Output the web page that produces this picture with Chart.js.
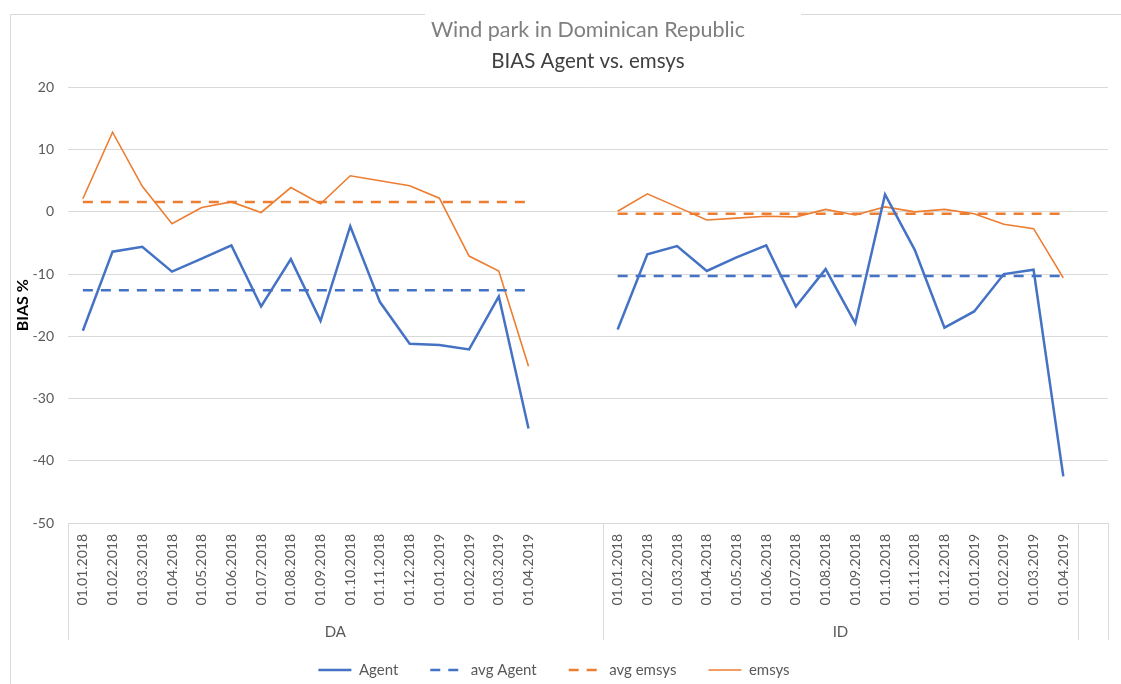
<!DOCTYPE html>
<html>
<head>
<meta charset="utf-8">
<script src="https://cdn.jsdelivr.net/npm/chart.js@4.4.1/dist/chart.umd.min.js"></script>
<style>
  html, body { margin: 0; padding: 0; background: #ffffff; }
  #wrap { width: 1121px; height: 684px; position: relative; }
</style>
</head>
<body>
<div id="wrap"><canvas id="c" width="1121" height="684"></canvas></div>
<script>
// ---- data ----
const months = ['01.01.2018','01.02.2018','01.03.2018','01.04.2018','01.05.2018','01.06.2018',
  '01.07.2018','01.08.2018','01.09.2018','01.10.2018','01.11.2018','01.12.2018',
  '01.01.2019','01.02.2019','01.03.2019','01.04.2019'];
const groupNames = ['DA', 'ID'];
const blanksAfterGroup = [2, 1];

const agentDA = [-19.1, -6.4, -5.6, -9.6, -7.5, -5.4, -15.2, -7.6, -17.5, -2.3, -14.5, -21.2, -21.4, -22.1, -13.6, -34.8];
const agentID = [-18.9, -6.8, -5.5, -9.5, -7.3, -5.4, -15.2, -9.2, -17.9, 2.8, -6.1, -18.6, -16.0, -10.0, -9.3, -42.5];
const emsysDA = [2.1, 12.8, 4.1, -1.9, 0.7, 1.6, -0.1, 3.9, 1.3, 5.8, 5.0, 4.2, 2.2, -7.1, -9.5, -24.8];
const emsysID = [0.1, 2.9, 0.8, -1.3, -1.0, -0.7, -0.8, 0.4, -0.5, 0.8, 0.0, 0.4, -0.3, -2.0, -2.7, -10.6];
const avgAgent = [-12.6, -10.3];   // DA, ID
const avgEmsys = [1.6, -0.3];      // DA, ID

const yMin = -50, yMax = 20, yStep = 10;

// ---- build category table ----
const labels = [];
const groupStart = [];
const groupSize = [];
function buildSeries(perGroup) {
  const out = [];
  perGroup.forEach((vals, g) => {
    vals.forEach(v => out.push(v));
    for (let i = 0; i < blanksAfterGroup[g]; i++) out.push(null);
  });
  return out;
}
groupNames.forEach((g, gi) => {
  groupStart.push(labels.length);
  months.forEach(m => labels.push(m));
  for (let i = 0; i < blanksAfterGroup[gi]; i++) labels.push('');
  groupSize.push(gi === 0 ? months.length + blanksAfterGroup[gi] : months.length);
});
const agentData = buildSeries([agentDA, agentID]);
const emsysData = buildSeries([emsysDA, emsysID]);
const avgAgentData = buildSeries([months.map(() => avgAgent[0]), months.map(() => avgAgent[1])]);
const avgEmsysData = buildSeries([months.map(() => avgEmsys[0]), months.map(() => avgEmsys[1])]);

const BLUE = '#4472C4', ORANGE = '#ED7D31', GRID = '#d9d9d9', TXT = '#595959';
const FONT = 'Lato, "Open Sans", sans-serif';

const decorPlugin = {
  id: 'decor',
  beforeDraw(chart) {
    const ctx = chart.ctx;
    ctx.save();
    ctx.fillStyle = '#ffffff';
    ctx.fillRect(0, 0, chart.width, chart.height);
    ctx.strokeStyle = GRID;
    ctx.lineWidth = 1;
    ctx.beginPath();
    ctx.moveTo(10.5, chart.height);
    ctx.lineTo(10.5, 14.5);
    ctx.lineTo(425, 14.5);
    ctx.moveTo(801, 14.5);
    ctx.lineTo(chart.width, 14.5);
    ctx.stroke();
    ctx.restore();
  },
  afterDraw(chart) {
    const ctx = chart.ctx;
    const xs = chart.scales.x;
    const area = chart.chartArea;
    const half = (xs.getPixelForValue(1) - xs.getPixelForValue(0)) / 2;
    const bottom = area.bottom + 117;
    const bounds = [];
    groupNames.forEach((g, gi) => {
      bounds.push(xs.getPixelForValue(groupStart[gi]) - half);
    });
    const lastIdx = labels.length - 1;
    bounds.push(xs.getPixelForValue(groupStart[groupStart.length - 1] + groupSize[groupSize.length - 1]) - half);
    bounds.push(xs.getPixelForValue(lastIdx) + half);
    ctx.save();
    ctx.strokeStyle = GRID;
    ctx.lineWidth = 1;
    ctx.beginPath();
    bounds.forEach(b => {
      const x = Math.round(b) + 0.5;
      ctx.moveTo(x, area.bottom);
      ctx.lineTo(x, bottom);
    });
    ctx.stroke();
    ctx.fillStyle = TXT;
    ctx.font = '15px ' + FONT;
    ctx.textAlign = 'center';
    ctx.textBaseline = 'middle';
    groupNames.forEach((g, gi) => {
      const x0 = xs.getPixelForValue(groupStart[gi]) - half;
      const x1 = xs.getPixelForValue(groupStart[gi] + groupSize[gi]) - half;
      ctx.fillText(g, (x0 + x1) / 2, area.bottom + 109);
    });
    ctx.restore();
  }
};

new Chart(document.getElementById('c'), {
  type: 'line',
  data: {
    labels: labels,
    datasets: [
      { label: 'Agent', data: agentData, borderColor: BLUE, backgroundColor: BLUE, borderWidth: 2.5, pointRadius: 0, tension: 0, spanGaps: false },
      { label: 'avg Agent', data: avgAgentData, borderColor: BLUE, backgroundColor: BLUE, borderWidth: 2.5, borderDash: [10, 8], pointRadius: 0, spanGaps: false },
      { label: 'avg emsys', data: avgEmsysData, borderColor: ORANGE, backgroundColor: ORANGE, borderWidth: 2.5, borderDash: [10, 8], pointRadius: 0, spanGaps: false },
      { label: 'emsys', data: emsysData, borderColor: ORANGE, backgroundColor: ORANGE, borderWidth: 1.6, pointRadius: 0, tension: 0, spanGaps: false }
    ]
  },
  options: {
    responsive: false,
    animation: false,
    devicePixelRatio: 1,
    layout: { padding: { left: 0, right: 13, top: 0, bottom: -3.5 } },
    scales: {
      x: {
        type: 'category',
        offset: true,
        grid: { display: false, drawTicks: false },
        border: { display: true, color: GRID, width: 1 },
        ticks: { autoSkip: false, minRotation: 90, maxRotation: 90, padding: 11, color: TXT, font: { family: FONT, size: 14 } },
        afterFit(scale) { scale.height = 107.5; }
      },
      y: {
        min: yMin, max: yMax,
        ticks: { stepSize: yStep, color: TXT, padding: 14, font: { family: FONT, size: 14 } },
        grid: { color: GRID, lineWidth: 1, drawTicks: false },
        border: { display: false },
        title: { display: true, text: 'BIAS %', color: '#000000', font: { family: FONT, size: 16, weight: 'bold' }, padding: { top: 13, bottom: 0 } },
        afterFit(scale) { scale.width = 68; }
      }
    },
    plugins: {
      title: { display: true, fullSize: false, text: 'Wind park in Dominican Republic', color: '#7f7f7f', font: { family: FONT, size: 21.5, weight: 'normal' }, padding: { top: 17, bottom: 0 } },
      subtitle: { display: true, fullSize: false, text: 'BIAS Agent vs. emsys', color: '#404040', font: { family: FONT, size: 20.5, weight: 'normal' }, padding: { top: 6, bottom: 14 } },
      legend: {
        position: 'bottom',
        labels: {
          usePointStyle: true, pointStyleWidth: 33, boxHeight: 10, padding: 32, color: TXT, font: { family: FONT, size: 15 },
          generateLabels(chart) {
            return chart.data.datasets.map((ds, i) => ({
              text: ds.label,
              fillStyle: ds.borderColor,
              strokeStyle: ds.borderColor,
              lineWidth: ds.borderWidth,
              lineDash: ds.borderDash || [],
              lineCap: 'butt',
              pointStyle: 'line',
              fontColor: TXT,
              hidden: false,
              datasetIndex: i
            }));
          }
        }
      },
      tooltip: { enabled: false }
    }
  },
  plugins: [decorPlugin]
});
</script>
</body>
</html>
